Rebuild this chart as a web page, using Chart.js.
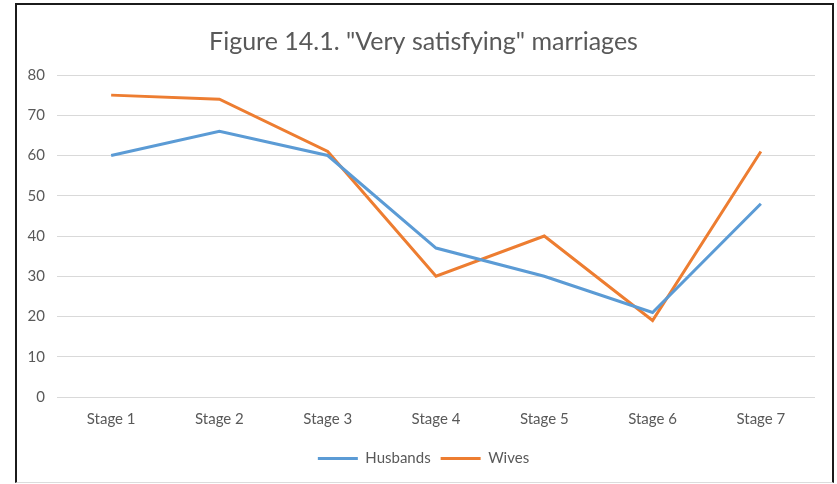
<!DOCTYPE html>
<html>
<head>
<meta charset="utf-8">
<script src="https://cdn.jsdelivr.net/npm/chart.js@4"></script>
<style>
  html, body { margin: 0; padding: 0; background: #fff; }
  #frame {
    position: absolute;
    left: 15px;
    top: 3px;
    width: 815px;
    height: 477px;
    border: 2px solid #1b1b1b;
    border-bottom: 1px solid #dcdcdc;
    background: #fff;
  }
  #chart { display: block; }
</style>
</head>
<body>
<div id="frame"><canvas id="chart" width="815" height="477"></canvas></div>
<script>
const stages = ["Stage 1", "Stage 2", "Stage 3", "Stage 4", "Stage 5", "Stage 6", "Stage 7"];
const husbands = [60, 66, 60, 37, 30, 21, 48];
const wives = [75, 74, 61, 30, 40, 19, 61];

const textColor = "#595959";
const gridColor = "#d9d9d9";
const fontFamily = "Lato, 'Open Sans', sans-serif";

new Chart(document.getElementById("chart"), {
  type: "line",
  data: {
    labels: stages,
    datasets: [
      {
        label: "Husbands",
        data: husbands,
        borderColor: "#5b9bd5",
        backgroundColor: "#5b9bd5",
        borderWidth: 3,
        pointRadius: 0,
        tension: 0,
      },
      {
        label: "Wives",
        data: wives,
        borderColor: "#ed7d31",
        backgroundColor: "#ed7d31",
        borderWidth: 3,
        pointRadius: 0,
        tension: 0,
      },
    ],
  },
  options: {
    responsive: false,
    animation: false,
    layout: { padding: { left: 0, right: 2, top: 10, bottom: 6 } },
    plugins: {
      title: {
        display: true,
        text: 'Figure 14.1. "Very satisfying" marriages',
        color: textColor,
        font: { family: fontFamily, size: 25, weight: "normal" },
        padding: { top: 12, bottom: 18 },
      },
      legend: {
        position: "bottom",
        labels: {
          color: textColor,
          font: { family: fontFamily, size: 15 },
          usePointStyle: true,
          pointStyle: "line",
          pointStyleWidth: 40,
          boxHeight: 3,
          padding: 10,
        },
      },
      tooltip: { enabled: false },
    },
    scales: {
      x: {
        offset: true,
        grid: { display: false, drawTicks: false },
        border: { display: false },
        ticks: {
          color: textColor,
          font: { family: fontFamily, size: 15 },
          padding: 13,
        },
      },
      y: {
        min: 0,
        max: 80,
        grid: { color: gridColor, drawTicks: false },
        border: { display: false },
        ticks: {
          stepSize: 10,
          color: textColor,
          font: { family: fontFamily, size: 15 },
          padding: 12,
        },
        afterFit: (scale) => { scale.width = 40; },
      },
      // empty right-hand gutter so the plot stops short of the frame
      gutter: {
        position: "right",
        grid: { display: false, drawTicks: false },
        border: { display: false },
        ticks: { display: false },
        afterFit: (scale) => { scale.width = 15; },
      },
    },
  },
});
</script>
</body>
</html>
